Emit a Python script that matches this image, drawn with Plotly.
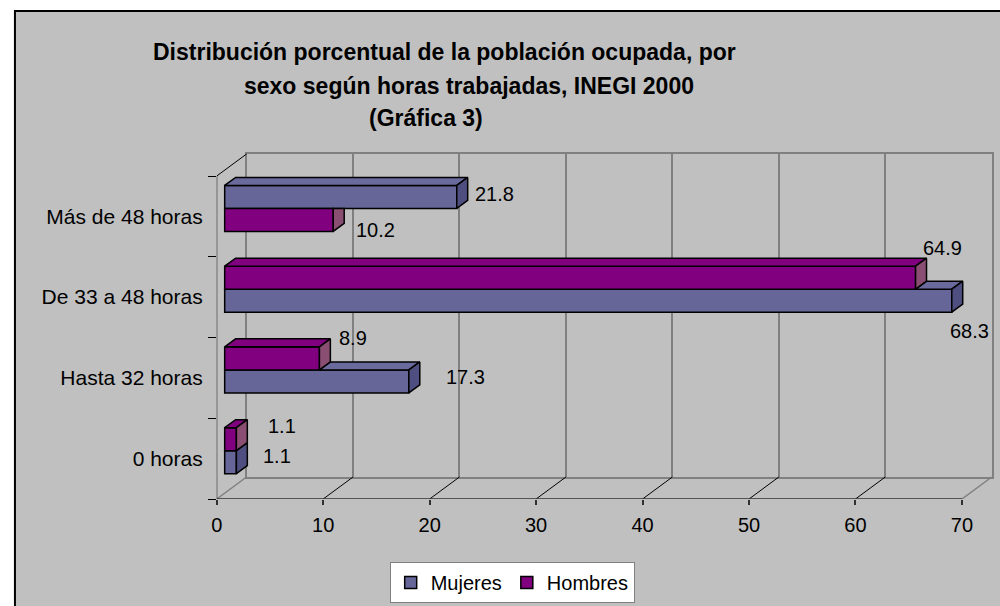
import plotly.graph_objects as go

# ---------------- data ----------------
categories = ["Más de 48 horas", "De 33 a 48 horas", "Hasta 32 horas", "0 horas"]
mujeres = [21.8, 68.3, 17.3, 1.1]
hombres = [10.2, 64.9, 8.9, 1.1]
series_names = ["Mujeres", "Hombres"]
upper_series = ["Mujeres", "Hombres", "Hombres", "Hombres"]  # which bar sits on top in each group
x_ticks = [0, 10, 20, 30, 40, 50, 60, 70]

values = {"Mujeres": mujeres, "Hombres": hombres}

# ---------------- style ----------------
W, H = 1000, 606
FONT = "Liberation Sans, Arial, sans-serif"
BG = "#C0C0C0"
GRID = "#808080"
FRONT = {"Mujeres": "#666699", "Hombres": "#800080"}
TOP = {"Mujeres": "#6A6A9C", "Hombres": "#800080"}
SIDE = {"Mujeres": "#4E4E80", "Hombres": "#8A4E72"}
LABEL_DX = {"Mujeres": [5, -15, 24, 14], "Hombres": [10, -6, 7, 19]}
LABEL_DY = {"Mujeres": [-3, 30, -4, -6], "Hombres": [10, -30, -20, -13]}

K = 10.71          # px per value unit (front plane)
CAT = 80.75        # px per category
FX0, FY0 = 212, 499  # front-left-bottom corner (px)
TOP_PX = 140
DXU, DYU = 30 / K, 22 / CAT            # wall depth in axis units
B = 8 / K                              # bar base offset
RAISE = 8 / CAT                        # bar plane raise
BW = 23 / CAT                          # bar thickness
dX, dY = 11 / K, 8 / CAT               # bar depth
n = len(categories)

fig = go.Figure()

# ---------------- back wall (axis grid) ----------------
fig.update_layout(
    xaxis=dict(domain=[(FX0 + 30) / W, (FX0 + 30 + 70 * K) / W], range=[0, 70],
               tickvals=x_ticks, showticklabels=False, ticks="", showgrid=True,
               gridcolor=GRID, gridwidth=1.5, showline=True, mirror=True,
               linecolor=GRID, linewidth=1.5, zeroline=False, anchor="y", fixedrange=True),
    yaxis=dict(domain=[1 - (FY0 - 22) / H, 1 - (FY0 - 22 - n * CAT) / H], range=[0, n],
               showticklabels=False, ticks="", showgrid=False, showline=True, mirror=True,
               linecolor=GRID, linewidth=1.5, zeroline=False, anchor="x", fixedrange=True),
)
fig.add_trace(go.Scatter(x=[None], y=[None], xaxis="x", yaxis="y", showlegend=False, hoverinfo="skip"))

# ---------------- floor & left wall edges ----------------
def line(xs, ys, color, width):
    fig.add_trace(go.Scatter(x=xs, y=ys, mode="lines", line=dict(color=color, width=width),
                             xaxis="x2", yaxis="y2", showlegend=False, hoverinfo="skip"))

for v in x_ticks:
    edge = v in (x_ticks[0], x_ticks[-1])
    line([v, v + DXU], [0, DYU], GRID if edge else "black", 1.5 if edge else 1)
line([0, DXU], [n, n + DYU], "black", 1)
line([0, 0], [0, n], "black", 1)
line([x_ticks[0], x_ticks[-1]], [0, 0], "#303030", 1.5)

# ---------------- bars (front faces) ----------------
centers = {s: [] for s in series_names}
for k in range(n):
    i = n - 1 - k
    ymid = i + 0.5 + RAISE
    up = upper_series[k]
    for s in series_names:
        centers[s].append(ymid + BW / 2 if s == up else ymid - BW / 2)

for s in series_names:
    fig.add_trace(go.Bar(
        name=s, orientation="h", x=values[s], y=centers[s], base=B, width=BW,
        marker=dict(color=FRONT[s], line=dict(color="black", width=1.5)),
        xaxis="x2", yaxis="y2", hoverinfo="skip"))

# ---------------- top & side faces ----------------
def poly(pts, color):
    xs = [p[0] for p in pts] + [pts[0][0]]
    ys = [p[1] for p in pts] + [pts[0][1]]
    fig.add_trace(go.Scatter(x=xs, y=ys, mode="lines", fill="toself", fillcolor=color,
                             line=dict(color="black", width=1.5), xaxis="x2", yaxis="y2",
                             showlegend=False, hoverinfo="skip"))

for k in range(n):
    up = upper_series[k]
    lo = [s for s in series_names if s != up][0]
    vu, vl = values[up][k], values[lo][k]
    # lower bar
    yc = centers[lo][k]
    yb, yt = yc - BW / 2, yc + BW / 2
    s0 = min(vu, vl)
    if vl > s0:
        poly([(B + s0, yt), (B + vl, yt), (B + vl + dX, yt + dY), (B + s0 + dX, yt + dY)], TOP[lo])
    xL = B + vl
    xU = B + vu
    if xU > xL:
        xc = min(xU, xL + dX)
        if xc < xL + dX:
            pts = [(xL, yb), (xL, yt), (xc, yt), (xc, yt + (xc - xL) / dX * dY),
                   (xL + dX, yt + dY), (xL + dX, yb + dY)]
        else:
            pts = [(xL, yb), (xL, yt), (xL + dX, yt), (xL + dX, yb + dY)]
    else:
        pts = [(xL, yb), (xL, yt), (xL + dX, yt + dY), (xL + dX, yb + dY)]
    poly(pts, SIDE[lo])
    # upper bar
    yc = centers[up][k]
    yb, yt = yc - BW / 2, yc + BW / 2
    poly([(B, yt), (B + vu, yt), (B + vu + dX, yt + dY), (B + dX, yt + dY)], TOP[up])
    poly([(xU, yb), (xU, yt), (xU + dX, yt + dY), (xU + dX, yb + dY)], SIDE[up])

# ---------------- data labels ----------------
for s in series_names:
    for k in range(n):
        v = values[s][k]
        fig.add_annotation(x=B + v + dX, y=centers[s][k], xref="x2", yref="y2",
                           text=f"{v:.1f}", showarrow=False, xanchor="left", yanchor="middle",
                           xshift=LABEL_DX[s][k], yshift=-LABEL_DY[s][k],
                           font=dict(family=FONT, size=20, color="black"))

# ---------------- title ----------------
title_lines = ["Distribución porcentual de la población ocupada, por",
               "sexo según horas trabajadas, INEGI 2000",
               "(Gráfica 3)"]
title_pos = [(441, 52), (466, 86), (423, 118)]
for t, (px, py) in zip(title_lines, title_pos):
    fig.add_annotation(x=px / W, y=1 - py / H, xref="paper", yref="paper", text=f"<b>{t}</b>",
                       showarrow=False, xanchor="center", yanchor="middle",
                       font=dict(family=FONT, size=23, color="black"))

# ---------------- front axes ----------------
fig.update_layout(
    xaxis2=dict(domain=[FX0 / W, 1.0], range=[0, (W - FX0) / K], anchor="y2",
                tickmode="array", tickvals=x_ticks, ticktext=[str(t) for t in x_ticks],
                ticks="outside", ticklen=5, tickcolor="#303030", tickwidth=1.5,
                showgrid=False, showline=False, zeroline=False, ticklabelstandoff=3,
                tickfont=dict(family=FONT, size=20, color="black"), fixedrange=True),
    yaxis2=dict(domain=[1 - FY0 / H, 1 - TOP_PX / H], range=[0, (FY0 - TOP_PX) / CAT], anchor="x2",
                tickmode="array", tickvals=[n - 1 - k + 0.5 for k in range(n)], ticktext=categories,
                ticks="", showgrid=False, showline=False, zeroline=False,
                minor=dict(tickvals=list(range(n + 1)), ticks="outside", ticklen=8,
                           tickcolor="black", tickwidth=1, showgrid=False),
                ticklabelstandoff=13,
                tickfont=dict(family=FONT, size=21, color="black"), fixedrange=True),
)

# ---------------- frame, legend ----------------
fig.add_shape(type="rect", xref="paper", yref="paper", x0=9 / W, y0=-0.02, x1=1.02, y1=1 - 11 / H,
              fillcolor=BG, line=dict(color="black", width=2), layer="below")

fig.update_layout(
    width=W, height=H, margin=dict(l=0, r=0, t=0, b=0),
    paper_bgcolor="white", plot_bgcolor="rgba(0,0,0,0)",
    barmode="overlay", showlegend=True,
    legend=dict(orientation="h", x=386 / W, y=1 - 562 / H, xanchor="left", yanchor="top",
                bgcolor="white", bordercolor="#808080", borderwidth=1,
                font=dict(family=FONT, size=20, color="black"), traceorder="normal",
                itemclick=False, itemdoubleclick=False),
)

fig.write_html("out.html", config={"displayModeBar": False},
               post_script="document.body.style.margin='0';document.body.style.overflow='hidden';")
